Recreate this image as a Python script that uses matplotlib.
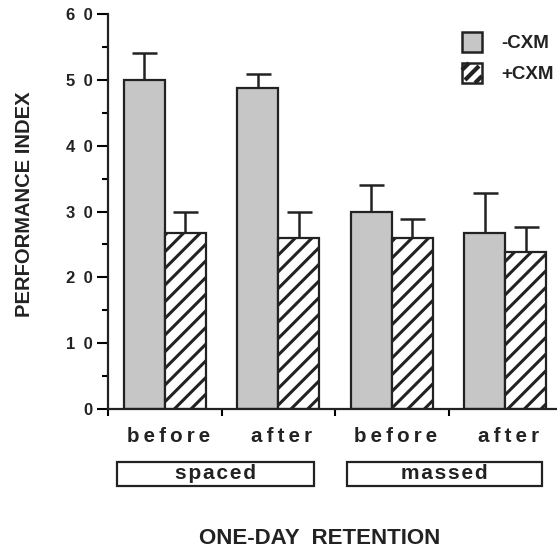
import numpy as np
import matplotlib.pyplot as plt
from matplotlib.patches import Rectangle
from matplotlib.lines import Line2D
from matplotlib.transforms import blended_transform_factory

plt.rcParams['font.family'] = ['Liberation Sans', 'DejaVu Sans']
plt.rcParams['font.weight'] = 'bold'
plt.rcParams['hatch.linewidth'] = 2.2

# data
conditions = ['before', 'after', 'before', 'after']
groups = ['spaced', 'massed']
minus_cxm = [50, 48.8, 30, 26.7]
minus_err = [4.1, 2.1, 4.0, 6.1]
plus_cxm = [26.8, 25.9, 25.9, 23.9]
plus_err = [3.1, 4.0, 2.9, 3.8]
yticks = [0, 10, 20, 30, 40, 50, 60]
ytick_labels = ['0', '1 0', '2 0', '3 0', '4 0', '5 0', '6 0']

INK = '#222222'
W, H = 557, 551
fig = plt.figure(figsize=(W / 100, H / 100), dpi=100)
# axis extends past right edge (x spine cut off like the scan)
ax = fig.add_axes([108 / W, (H - 409) / H, 454 / W, 395 / H])

x = np.arange(len(conditions)) + 0.5
bw = 0.36
gray = '#c6c6c6'


def spaced_text(s, gap):
    return gap.join(s)


ax.bar(x - bw / 2, minus_cxm, bw, color=gray, edgecolor=INK, linewidth=1.6, zorder=2)
ax.bar(x + bw / 2, plus_cxm, bw, color='white', edgecolor=INK, hatch='//', linewidth=1.6, zorder=2)
ax.errorbar(x - bw / 2, minus_cxm, yerr=[np.zeros(4), minus_err], fmt='none',
            ecolor=INK, elinewidth=1.8, capsize=9, capthick=1.8, zorder=1)
ax.errorbar(x + bw / 2, plus_cxm, yerr=[np.zeros(4), plus_err], fmt='none',
            ecolor=INK, elinewidth=1.8, capsize=9, capthick=1.8, zorder=1)

ax.set_xlim(0, 4)
ax.set_ylim(0, 60)
ax.set_yticks(yticks)
ax.set_yticklabels([l.replace(' ', '\u2002') for l in ytick_labels],
                   fontsize=12, fontweight='bold', color=INK)
ax.set_yticks(np.arange(5, 60, 10), minor=True)
ax.set_xticks([0, 1, 2, 3, 4])
ax.set_xticklabels([])
ax.tick_params(axis='y', which='major', length=8, width=1.5, pad=3)
ax.tick_params(axis='y', which='minor', length=4, width=1.5)
ax.tick_params(axis='x', which='major', length=5, width=1.5, direction='out')
for s in ['top', 'right']:
    ax.spines[s].set_visible(False)
for s in ['left', 'bottom']:
    ax.spines[s].set_linewidth(1.6)
    ax.spines[s].set_color(INK)

tr = blended_transform_factory(ax.transData, fig.transFigure)
for xi, lab in zip(x, conditions):
    ax.text(xi + 0.03, 1 - 436 / H, spaced_text(lab, '\u2009'), transform=tr, ha='center',
            va='center', fontsize=14.8, fontweight='bold', color=INK)

box_spans = [(0.08, 1.815), (2.11, 3.825)]
for (x0, x1), g in zip(box_spans, groups):
    r = Rectangle((x0, 1 - 486 / H), x1 - x0, 24 / H, transform=tr, fill=False,
                  edgecolor=INK, linewidth=1.6, clip_on=False)
    fig.add_artist(r)
    ax.text((x0 + x1) / 2, 1 - 479 / H, spaced_text(g, '\u200a'), transform=tr, ha='center',
            va='baseline', fontsize=15, fontweight='bold', color=INK)

fig.text(25 / W, 1 - 204 / H, 'PERFORMANCE INDEX', rotation=90, ha='center', va='center',
         fontsize=14.5, fontweight='bold', color=INK)
fig.text(320 / W, 1 - 538 / H, 'ONE-DAY  RETENTION', ha='center', va='center',
         fontsize=16, fontweight='bold', color=INK)

# legend
fig.add_artist(Rectangle((462 / W, 1 - 52 / H), 20 / W, 20 / H, transform=fig.transFigure,
                         facecolor=gray, edgecolor=INK, linewidth=1.8))
fig.add_artist(Rectangle((462 / W, 1 - 83 / H), 20 / W, 20 / H, transform=fig.transFigure,
                         facecolor='white', edgecolor=INK, linewidth=1.8))
for (xa, ya), (xb, yb) in [((465, 80), (479, 66)), ((462, 70), (469, 63)), ((475, 83), (482, 76))]:
    fig.add_artist(Line2D([xa / W, xb / W], [1 - ya / H, 1 - yb / H], transform=fig.transFigure,
                          color=INK, linewidth=3, solid_capstyle='butt'))
fig.text(501 / W, 1 - 43 / H, '-CXM', ha='left', va='center',
         fontsize=13.5, fontweight='bold', color=INK)
fig.text(501 / W, 1 - 75 / H, '+CXM', ha='left', va='center',
         fontsize=13.5, fontweight='bold', color=INK)

fig.savefig('out.png', dpi=100)
